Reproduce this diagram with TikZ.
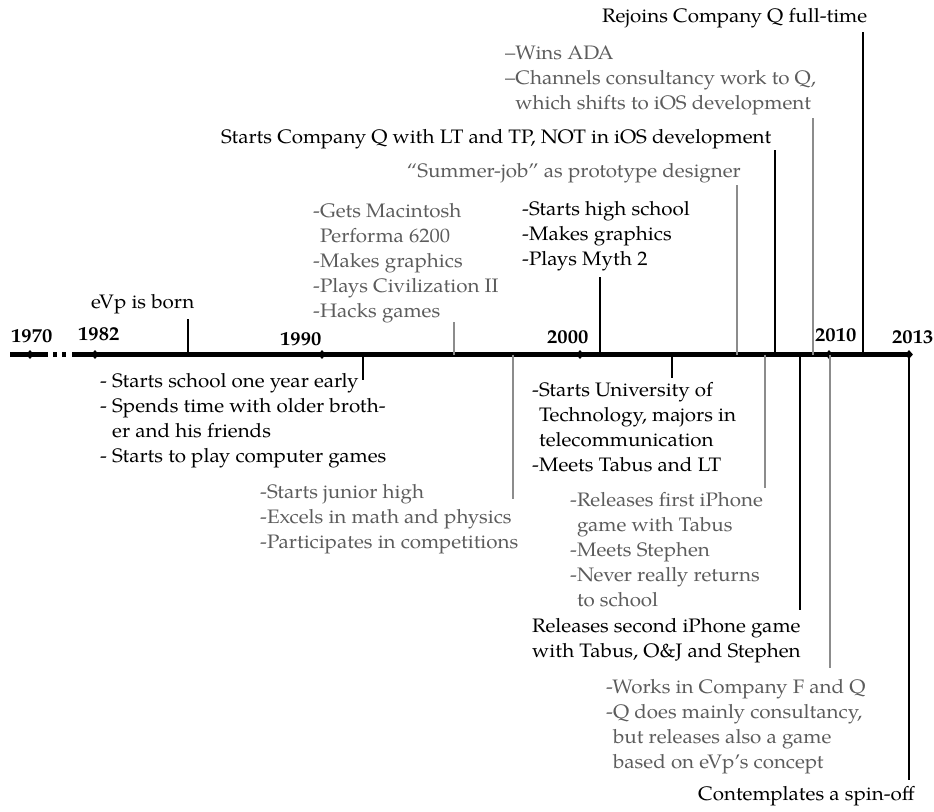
\documentclass[tikz,border=0pt]{standalone}
\usepackage{fontspec}
\setmainfont[FakeStretch=1.055]{TeX Gyre Pagella}
\usetikzlibrary{shapes.geometric}
\definecolor{evgray}{HTML}{5C5C5C}
\definecolor{linegray}{HTML}{8C8C8C}
\newcommand\evfont{\fontsize{19.5}{25.2}\selectfont}
\newcommand\evlines[1]{\begin{tabular}[t]{@{}l@{}}#1\end{tabular}}
\newcommand\ind{\hphantom{-}}
\begin{document}
\begin{tikzpicture}[x=1pt,y=-1pt,
  txt/.style={anchor=base west,inner sep=0pt,font=\evfont},
  gtxt/.style={txt,text=evgray},
  yr/.style={anchor=base west,inner sep=0pt,font=\evfont\bfseries},
  tickb/.style={line width=1.4pt,draw=black},
  tickg/.style={line width=1.4pt,draw=linegray},
  axisline/.style={line width=5pt},
  yeardot/.style={diamond,fill=black,inner sep=0pt,minimum width=8pt,minimum height=9pt}]
\useasboundingbox (0,0) rectangle (934,811);

% time axis
\draw[axisline] (10,354.5) -- (48,354.5);
\draw[axisline] (53,354.5) -- (57,354.5);
\draw[axisline] (62,354.5) -- (66,354.5);
\draw[axisline] (72,354.5) -- (911,354.5);

% year markers and labels
\node[yeardot] (y1970) at (30,354.5) {};
\node[yeardot] (y1982) at (95,354.5) {};
\node[yeardot] (y1990) at (322,354.5) {};
\node[yeardot] (y2000) at (580,354.5) {};
\node[yeardot] (y2010) at (829,354.5) {};
\node[yeardot] (y2013) at (909,354.5) {};
\node[yr] (l1970) at (11,342) {1970};
\node[yr] (l1982) at (78,340) {1982};
\node[yr] (l1990) at (280,345) {1990};
\node[yr] (l2000) at (547,343) {2000};
\node[yr] (l2010) at (815,341) {2010};
\node[yr] (l2013) at (892,343) {2013};

% points on the axis where events attach
\coordinate (aBorn) at (188,354.5);
\coordinate (aMac) at (454,354.5);
\coordinate (aHigh) at (600,354.5);
\coordinate (aSummer) at (737,354.5);
\coordinate (aCompQ) at (775,354.5);
\coordinate (aADA) at (813,354.5);
\coordinate (aRejoin) at (863,354.5);
\coordinate (aSchool) at (363,354.5);
\coordinate (aJunior) at (513,354.5);
\coordinate (aUni) at (672,354.5);
\coordinate (aFirst) at (765,354.5);
\coordinate (aSecond) at (800,354.5);
\coordinate (aWorks) at (830,354.5);
\coordinate (aSpin) at (909,354.5);

% free ends of the event lines
\coordinate (eBorn) at (188,319);
\coordinate (eMac) at (454,322);
\coordinate (eHigh) at (600,277);
\coordinate (eSummer) at (737,185);
\coordinate (eCompQ) at (775,150);
\coordinate (eADA) at (813,118);
\coordinate (eRejoin) at (863,32);
\coordinate (eSchool) at (363,380);
\coordinate (eJunior) at (513,499);
\coordinate (eUni) at (672,378);
\coordinate (eFirst) at (765,488);
\coordinate (eSecond) at (800,610);
\coordinate (eWorks) at (830,668);
\coordinate (eSpin) at (909,780);

\draw[tickb] (aBorn) -- (eBorn);
\draw[tickg] (aMac) -- (eMac);
\draw[tickb] (aHigh) -- (eHigh);
\draw[tickg] (aSummer) -- (eSummer);
\draw[tickb] (aCompQ) -- (eCompQ);
\draw[tickg] (aADA) -- (eADA);
\draw[tickb] (aRejoin) -- (eRejoin);
\draw[tickb] (aSchool) -- (eSchool);
\draw[tickg] (aJunior) -- (eJunior);
\draw[tickb] (aUni) -- (eUni);
\draw[tickg] (aFirst) -- (eFirst);
\draw[tickb] (aSecond) -- (eSecond);
\draw[tickg] (aWorks) -- (eWorks);
\draw[tickb] (aSpin) -- (eSpin);

% events above the axis
\node[txt] (born) at (91,308) {eVp is born};
\node[gtxt] (mac) at (313,217) {\evlines{-Gets Macintosh\\\ind Performa 6200\\-Makes graphics\\-Plays Civilization II\\-Hacks games}};
\node[txt] (high) at (522,215) {\evlines{-Starts high school\\-Makes graphics\\-Plays Myth 2}};
\node[gtxt,anchor=base east] (summer) at (741,177) {``Summer-job'' as prototype designer};
\node[txt] (compq) at (221,143) {Starts Company Q with LT and TP, NOT in iOS development};
\node[gtxt] (ada) at (505,59) {\evlines{--Wins ADA\\--Channels consultancy work to Q,\\\hphantom{--}which shifts to iOS development}};
\node[txt] (rejoin) at (602,23) {Rejoins Company Q full-time};

% events below the axis
\node[txt] (school) at (100,387) {\evlines{- Starts school one year early\\- Spends time with older broth-\\\hphantom{- }er and his friends\\- Starts to play computer games}};
\node[gtxt] (junior) at (260,498) {\evlines{-Starts junior high\\-Excels in math and physics\\-Participates in competitions}};
\node[txt] (uni) at (532,396) {\evlines{-Starts University of\\\ind Technology, majors in\\\ind telecommunication\\-Meets Tabus and LT}};
\node[gtxt] (first) at (570,506) {\evlines{-Releases first iPhone\\\ind game with Tabus\\-Meets Stephen\\-Never really returns\\\ind to school}};
\node[txt] (second) at (532,632) {\evlines{Releases second iPhone game\\with Tabus, O\&J and Stephen}};
\node[gtxt] (works) at (606,693) {\evlines{-Works in Company F and Q\\-Q does mainly consultancy,\\\ind but releases also a game\\\ind based on eVp's concept}};
\node[txt] (spin) at (698,800) {Contemplates a spin-off};
\end{tikzpicture}
\end{document}
